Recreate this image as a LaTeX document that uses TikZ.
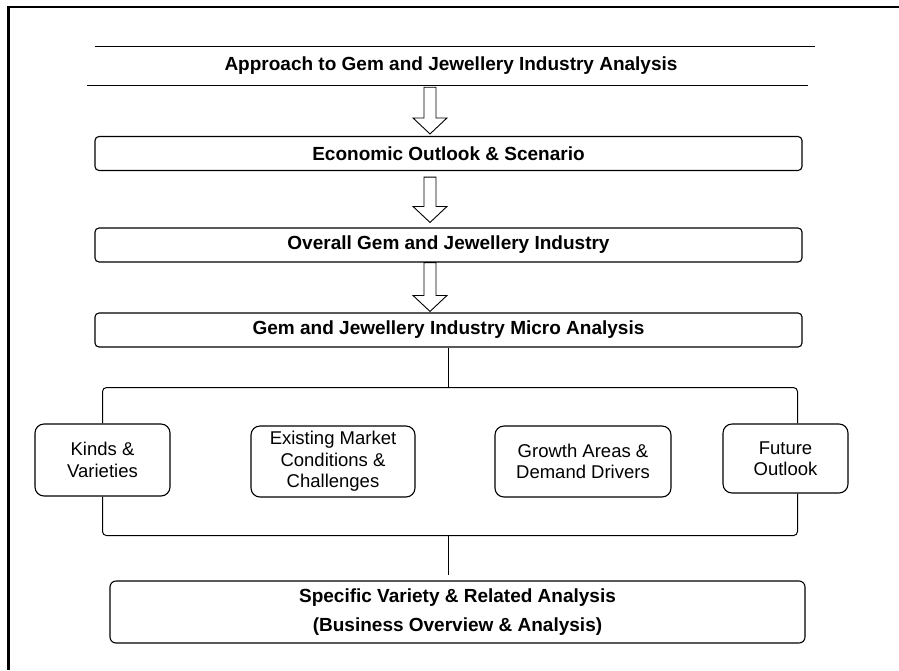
\documentclass[tikz,border=0pt]{standalone}
\usepackage{fontspec}
\setmainfont{Liberation Sans}
\usetikzlibrary{calc}
\newcommand{\hollowArrow}[2]{%
  \draw[arrowline] let \p1=(#1), \p2=(#2) in
    (\x1-6pt,\y1) -- (\x1+6pt,\y1) -- (\x1+6pt,\y2+16pt) -- (\x1+17pt,\y2+16pt)
    -- (\x1,\y2) -- (\x1-17pt,\y2+16pt) -- (\x1-6pt,\y2+16pt) -- cycle;}

\begin{document}
\begin{tikzpicture}[x=1pt,y=-1pt,
  headbox/.style={draw, rounded corners=4pt, line width=1.1pt, minimum width=707pt,
    minimum height=34pt, inner sep=0pt, font=\bfseries\fontsize{19}{23}\selectfont},
  itembox/.style={draw, rounded corners=9pt, line width=1.1pt, inner sep=0pt,
    align=center, font=\fontsize{18.5}{21.5}\selectfont},
  bracket/.style={line width=1pt, rounded corners=4pt},
  arrowline/.style={line width=0.9pt, fill=white}]
\useasboundingbox (0,0) rectangle (899,670);
\draw[line width=2.7pt] (8.5,670) -- (8.5,7) -- (899,7);
\node[minimum width=720pt, minimum height=38pt, inner sep=0pt, font=\bfseries\fontsize{19}{23}\selectfont] (title) at (451,66) {Approach to Gem and Jewellery Industry Analysis};
\draw[line width=0.9pt] ([xshift=4pt]title.north west) -- ([xshift=4pt]title.north east);
\draw[line width=0.9pt] ([xshift=-4pt]title.south west) -- ([xshift=-3pt]title.south east);
\node[headbox] (econ) at (448.5,153.5) {Economic Outlook \& Scenario};
\node[headbox] (overall) at (448.5,245) {Overall Gem and Jewellery Industry};
\node[headbox] (micro) at (448.5,330) {Gem and Jewellery Industry Micro Analysis};
\node[itembox, minimum width=135pt, minimum height=72pt] (kinds) at (102.5,460) {Kinds \&\\Varieties};
\node[itembox, minimum width=164pt, minimum height=71pt] (market) at (333,461.5) {Existing Market\\Conditions \&\\Challenges};
\node[itembox, minimum width=176pt, minimum height=71pt] (growth) at (583,461.5) {Growth Areas \&\\Demand Drivers};
\node[itembox, minimum width=125pt, minimum height=69pt] (future) at (785.5,458.5) {Future\\Outlook};
\node[headbox, minimum width=695pt, minimum height=62pt, rounded corners=6pt, align=center,
  font=\bfseries\fontsize{19}{29}\selectfont] (specific) at (457.5,612) {Specific Variety \& Related Analysis\\(Business Overview \& Analysis)};
\coordinate (ax) at (430,0);
\hollowArrow{$(title.south -| ax)+(0,2)$}{$(econ.north -| ax)+(0,-2)$}
\hollowArrow{$(econ.south -| ax)+(0,6)$}{$(overall.north -| ax)+(0,-5)$}
\hollowArrow{overall.south -| ax}{$(micro.north -| ax)+(0,-1)$}
\coordinate (tb) at ($(micro.south)+(0,40)$);
\coordinate (bb) at ($(micro.south)+(0,188)$);
\draw[bracket] (micro.south) -- (tb);
\draw[bracket] (tb) -| (kinds.north);
\draw[bracket] (tb) -| ($(future.north)+(12,0)$);
\draw[bracket] (kinds.south) |- (bb) -| ($(future.south)+(12,0)$);
\draw[bracket] (bb) -- ($(specific.north -| bb)+(0,-5)$);
\end{tikzpicture}
\end{document}
